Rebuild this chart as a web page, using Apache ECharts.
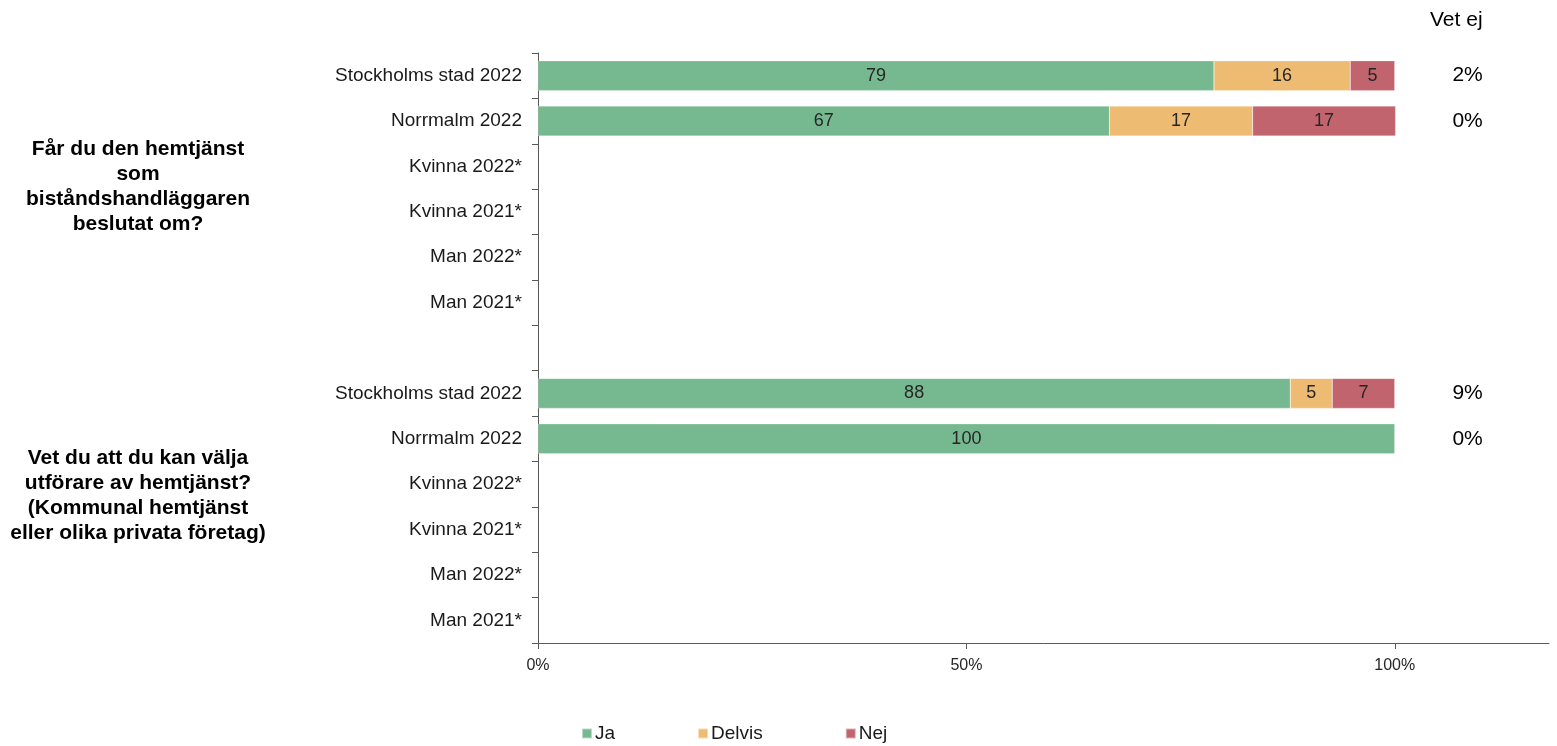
<!DOCTYPE html>
<html>
<head>
<meta charset="utf-8">
<script src="https://cdn.jsdelivr.net/npm/echarts@6/dist/echarts.min.js"></script>
<style>
html,body{margin:0;padding:0;background:#fff;}
#chart{width:1557px;height:746px;}
</style>
</head>
<body>
<div id="chart"></div>
<script>
const categories = ['Stockholms stad 2022','Norrmalm 2022','Kvinna 2022*','Kvinna 2021*','Man 2022*','Man 2021*','',
                    'Stockholms stad 2022','Norrmalm 2022','Kvinna 2022*','Kvinna 2021*','Man 2022*','Man 2021*'];
const ja     = [78.9, 66.7, null, null, null, null, null, 87.8, 100, null, null, null, null];
const delvis = [15.9, 16.7, null, null, null, null, null, 4.9, null, null, null, null, null];
const nej    = [5.2, 16.7, null, null, null, null, null, 7.3, null, null, null, null, null];
const vetEj  = ['2%','0%',null,null,null,null,null,'9%','0%',null,null,null,null];
const xTicks = [0, 50, 100];
const questions = [
  'Får du den hemtjänst\nsom\nbiståndshandläggaren\nbeslutat om?',
  'Vet du att du kan välja\nutförare av hemtjänst?\n(Kommunal hemtjänst\neller olika privata företag)'
];
const vetEjHeader = 'Vet ej';

const FONT = 'Liberation Sans, Arial, sans-serif';
const chart = echarts.init(document.getElementById('chart'));
const gridLeft = 538, gridTop = 53, gridRight = 8, gridBottom = 103;
const xMax = 118;

function barSeries(name, data, color) {
  return {
    name: name, type: 'bar', stack: 'all', data: data,
    barWidth: 30,
    itemStyle: {color: color, borderColor: 'rgba(255,255,255,0.5)', borderWidth: 0.5},
    label: {
      show: true, position: 'inside', color: '#262626', fontFamily: FONT, fontSize: 18,
      formatter: p => (p.value == null ? '' : Math.round(p.value))
    },
    emphasis: {disabled: true}
  };
}

const vetPos = 108.5;
const option = {
  animation: false,
  backgroundColor: '#fff',
  textStyle: {fontFamily: FONT},
  grid: {left: gridLeft, top: gridTop, right: gridRight, bottom: gridBottom, containLabel: false},
  xAxis: {
    type: 'value', min: 0, max: xMax, interval: 50,
    splitLine: {show: false},
    axisLine: {show: true, lineStyle: {color: '#595959', width: 1}},
    axisTick: {show: true, length: 6, lineStyle: {color: '#595959'}},
    axisLabel: {
      color: '#262626', fontSize: 16, fontFamily: FONT, margin: 15,
      showMaxLabel: false,
      formatter: v => (xTicks.indexOf(v) >= 0 ? v + '%' : '')
    }
  },
  yAxis: {
    type: 'category', data: categories, inverse: true,
    axisLine: {show: true, lineStyle: {color: '#595959', width: 1}},
    axisTick: {show: true, length: 6, lineStyle: {color: '#595959'}},
    axisLabel: {color: '#1a1a1a', fontSize: 19, fontFamily: FONT, margin: 16}
  },
  legend: {
    top: 719, left: 576, itemWidth: 10, itemHeight: 10, itemGap: 82,
    icon: 'rect',
    data: ['Ja', 'Delvis', 'Nej'],
    textStyle: {color: '#1a1a1a', fontSize: 19, fontFamily: FONT, padding: [0, 0, 0, -2]}
  },
  series: [
    barSeries('Ja', ja, '#76B990'),
    barSeries('Delvis', delvis, '#EDBB72'),
    barSeries('Nej', nej, '#C1646D'),
    {
      name: 'Vet ej', type: 'scatter', symbolSize: 0,
      itemStyle: {opacity: 1, color: 'transparent'},
      data: vetEj.map((v, i) => (v == null ? null : [vetPos, i, v])),
      label: {show: true, position: 'inside', formatter: p => p.value[2], color: '#000', opacity: 1, fontSize: 21, fontFamily: FONT},
      emphasis: {disabled: true},
      silent: true
    }
  ],
  graphic: [
    {type: 'text', left: 1430, top: 10, style: {text: vetEjHeader, font: '21px ' + FONT, fill: '#000'}},
    {type: 'text', x: 138, y: 187, style: {text: questions[0], font: 'bold 21px ' + FONT, fill: '#000', align: 'center', verticalAlign: 'middle', lineHeight: 25}},
    {type: 'text', x: 138, y: 496, style: {text: questions[1], font: 'bold 21px ' + FONT, fill: '#000', align: 'center', verticalAlign: 'middle', lineHeight: 25}}
  ]
};
chart.setOption(option);
</script>
</body>
</html>
